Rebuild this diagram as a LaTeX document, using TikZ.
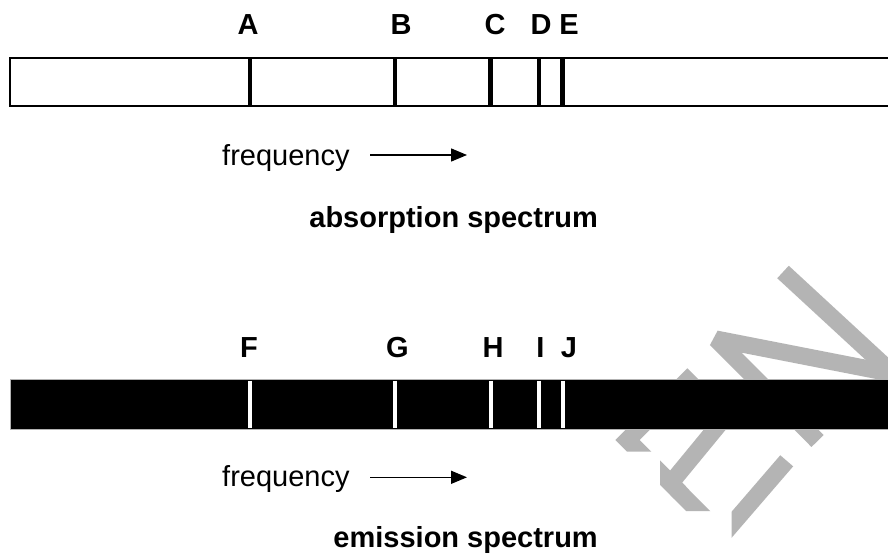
\documentclass[tikz,border=0pt]{standalone}
\usepackage{fontspec}
\setmainfont{Liberation Sans}
\usetikzlibrary{arrows.meta}
\definecolor{wmgrey}{RGB}{180,180,180}
\begin{document}
\begin{tikzpicture}[x=1pt,y=-1pt,
  lbl/.style={font=\fontsize{29}{34}\selectfont\bfseries, inner sep=0pt, anchor=base},
  txt/.style={font=\fontsize{29}{34}\selectfont, inner sep=0pt, anchor=base west},
  ttl/.style={font=\fontsize{29}{34}\selectfont\bfseries, inner sep=0pt, anchor=base east},
  absline/.style={line width=4.5pt, black},
  emline/.style={line width=4pt, white},
  freqarrow/.style={line width=1.5pt, -{Triangle[length=16pt,width=13pt]}},
  wm/.style={wmgrey, line width=17pt}]
\useasboundingbox[fill=white] (0,0) rectangle (888,556);

% watermark
\begin{scope}
  \clip (600,250) -- (888,250) -- (888,556) -- (731.7,556) -- (731.7,511) -- (660,511) -- (660,451.7) -- (600,451.7) -- cycle;
  \draw[wm] (783,272) -- (900,380);
  \draw[wm, line join=bevel] (900,375) -- (716,339) -- (817.5,441);
  \draw[wm, line join=miter] (693.3,374.3) -- (627.5,440) -- (680,492.5);
  \draw[wm, line join=miter] (735,405) -- (670.6,483.3) -- (720,533);
  \draw[wm] (786.7,460.8) -- (715,544);
\end{scope}

% absorption spectrum bar
\draw[line width=2pt] (10,58.5) rectangle (895,106.5);
\foreach \x in {250,395,490.7,539,562.7}
  \draw[absline] (\x,58.5) -- (\x,106.5);
\node[lbl] (A) at (248,35) {A};
\node[lbl] (B) at (401,35) {B};
\node[lbl] (C) at (495,35) {C};
\node[lbl] (D) at (541,35) {D};
\node[lbl] (E) at (569,35) {E};

\node[txt] (freq1) at (222,166) {frequency};
\coordinate (a1s) at (370,155);
\coordinate (a1e) at (467,155);
\draw[freqarrow] (a1s) -- (a1e);
\node[ttl] (abs) at (598,227) {absorption spectrum};

% emission spectrum bar
\fill[black] (10,379.3) rectangle (895,429.3);
\draw[gray!60, line width=0.6pt] (895,379.3) -- (10,379.3) -- (10,429.3) -- (895,429.3);
\foreach \x in {250,395,490.7,539,562.7}
  \draw[emline] (\x,380.8) -- (\x,428);
\node[lbl] (F) at (249,357) {F};
\node[lbl] (G) at (397.5,357) {G};
\node[lbl] (H) at (493,357) {H};
\node[lbl] (I) at (540.5,357) {I};
\node[lbl] (J) at (569,357) {J};

\node[txt] (freq2) at (222,486) {frequency};
\coordinate (a2s) at (370,477.3);
\coordinate (a2e) at (467,477.3);
\draw[freqarrow] (a2s) -- (a2e);
\node[ttl] (emi) at (598,547) {emission spectrum};
\end{tikzpicture}
\end{document}
